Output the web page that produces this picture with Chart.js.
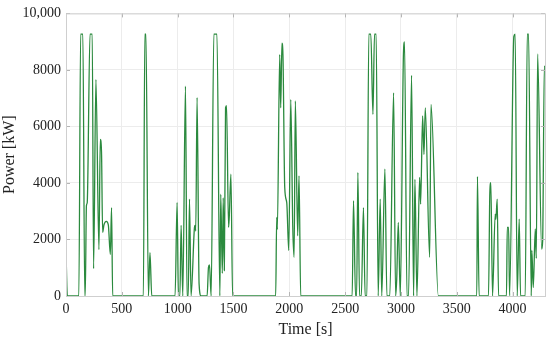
<!DOCTYPE html>
<html>
<head>
<meta charset="utf-8">
<script src="https://cdn.jsdelivr.net/npm/chart.js@4/dist/chart.umd.min.js"></script>
<style>
  html, body { margin: 0; padding: 0; background: #fff; }
  #wrap { width: 550px; height: 339px; }
</style>
</head>
<body>
<div id="wrap"><canvas id="powerChart"></canvas></div>
<script>
// Time [s] and power [kW]
const timeSec = [
  0, 12, 115, 131, 151, 168, 172, 183, 190, 215, 235, 247, 268, 295, 307, 318, 328, 340, 361, 379, 397, 408, 418,
  693, 706, 716, 738, 752, 768,
  977, 995, 1007, 1020, 1031, 1046, 1070, 1084, 1095, 1106, 1120, 1150, 1156, 1162, 1174, 1192, 1210,
  1264, 1276, 1285, 1300, 1324, 1352, 1378, 1386, 1400, 1408, 1418, 1429, 1438, 1456, 1462, 1477, 1492,
  1878, 1887, 1893, 1914, 1923, 1934, 1943, 1959, 1977, 1995, 2013, 2031, 2043, 2054, 2075, 2087, 2102,
  2563, 2575, 2593, 2603, 2614, 2629, 2645, 2664, 2679, 2695, 2712, 2730, 2749, 2763, 2778, 2796, 2814, 2828,
  2856, 2874, 2900, 2934, 2952, 2962, 2976, 2994, 3023, 3032, 3054, 3068, 3095, 3113, 3125, 3143, 3167, 3176,
  3194, 3206, 3218, 3257, 3269, 3335,
  3679, 3685, 3700, 3784, 3796, 3805, 3820, 3844, 3850, 3862, 3874, 3945, 3952, 3964, 3973, 4011, 4023, 4041,
  4059, 4071, 4113, 4131, 4143, 4167, 4172, 4185, 4203, 4212, 4224, 4260, 4269, 4284, 4290
];
const powerKW = [
  1600, 0, 0, 9270, 9270, 0, 0, 3200, 3300, 9270, 9270, 970, 7660, 1640, 5545, 5100, 2250, 2520, 2640, 2520, 1470, 3130, 0,
  0, 9270, 9270, 0, 1530, 0,
  0, 3310, 0, 0, 2500, 0, 7425, 0, 0, 3430, 0, 2400, 2500, 2300, 7020, 430, 0,
  0, 1016, 1100, 0, 9270, 9270, 0, 3600, 800, 3470, 900, 6660, 6740, 2430, 2780, 4310, 0,
  0, 2780, 2360, 8540, 6660, 8950, 8540, 3840, 3310, 1610, 6950, 2430, 1370, 6900, 2130, 4250, 0,
  0, 3370, 0, 0, 4370, 0, 0, 3130, 0, 0, 9270, 9270, 6430, 9270, 9270, 0, 3430, 0,
  4490, 0, 0, 7190, 0, 600, 2600, 0, 8660, 8990, 0, 0, 7810, 0, 4130, 0, 4200, 3250,
  6370, 5010, 6660, 1370, 6780, 0,
  0, 4230, 0, 0, 3660, 4010, 0, 2900, 2710, 3430, 0, 0, 2430, 2430, 0, 9190, 9270, 0,
  2720, 0, 0, 9270, 9270, 0, 1610, 300, 2370, 1330, 8570, 1660, 1950, 8130, 8080
];
const xTicks = [0, 500, 1000, 1500, 2000, 2500, 3000, 3500, 4000];
const yTicks = [0, 2000, 4000, 6000, 8000, 10000];

const serif = '"Liberation Serif", "DejaVu Serif", serif';

// short inward tick marks on all four sides of the plot box
const innerTicks = {
  id: 'innerTicks',
  afterDatasetsDraw(chart) {
    const { ctx, chartArea: a, scales } = chart;
    ctx.save();
    ctx.strokeStyle = '#b5b5b5';
    ctx.lineWidth = 1;
    ctx.beginPath();
    xTicks.forEach(v => {
      const x = Math.round(scales.x.getPixelForValue(v)) + 0.5;
      ctx.moveTo(x, a.top); ctx.lineTo(x, a.top + 4);
      ctx.moveTo(x, a.bottom); ctx.lineTo(x, a.bottom - 4);
    });
    yTicks.forEach(v => {
      const y = Math.round(scales.y.getPixelForValue(v)) + 0.5;
      ctx.moveTo(a.left, y); ctx.lineTo(a.left + 4, y);
      ctx.moveTo(a.right, y); ctx.lineTo(a.right - 4, y);
    });
    ctx.stroke();
    ctx.strokeStyle = '#cfcfcf';
    ctx.strokeRect(a.left + 0.5, a.top + 0.5, a.right - a.left, a.bottom - a.top);
    ctx.restore();
  }
};

const ctx = document.getElementById('powerChart').getContext('2d');
new Chart(ctx, {
  type: 'line',
  data: {
    datasets: [{
      data: timeSec.map((t, i) => ({ x: t, y: powerKW[i] })),
      borderColor: '#2b8a3e',
      borderWidth: 1.3,
      pointRadius: 0,
      fill: false,
      cubicInterpolationMode: 'monotone'
    }]
  },
  options: {
    responsive: true,
    maintainAspectRatio: false,
    animation: false,
    layout: { padding: { left: 0, right: 5, top: 11, bottom: 0 } },
    plugins: { legend: { display: false }, tooltip: { enabled: false } },
    scales: {
      x: {
        type: 'linear',
        min: 0,
        max: 4290,
        afterFit: s => { s.height = 43; },
        afterBuildTicks: s => { s.ticks = xTicks.map(v => ({ value: v })); },
        grid: { color: '#ececec', drawTicks: false },
        border: { color: '#c8c8c8' },
        ticks: {
          padding: 5,
          color: '#222',
          font: { family: serif, size: 14 },
          callback: v => String(v)
        },
        title: {
          display: true,
          text: 'Time [s]',
          color: '#222',
          font: { family: serif, size: 16 },
          padding: { top: 0, bottom: 0 }
        }
      },
      y: {
        min: 0,
        max: 10000,
        afterFit: s => { s.width = 66; },
        afterBuildTicks: s => { s.ticks = yTicks.map(v => ({ value: v })); },
        grid: { color: '#ececec', drawTicks: false },
        border: { color: '#c8c8c8' },
        ticks: {
          padding: 5,
          color: '#222',
          font: { family: serif, size: 14 },
          callback: v => v >= 10000 ? v.toLocaleString('en-US') : String(v)
        },
        title: {
          display: true,
          text: 'Power [kW]',
          color: '#222',
          font: { family: serif, size: 16 },
          padding: { top: 0, bottom: 4 }
        }
      }
    }
  },
  plugins: [innerTicks]
});
</script>
</body>
</html>
